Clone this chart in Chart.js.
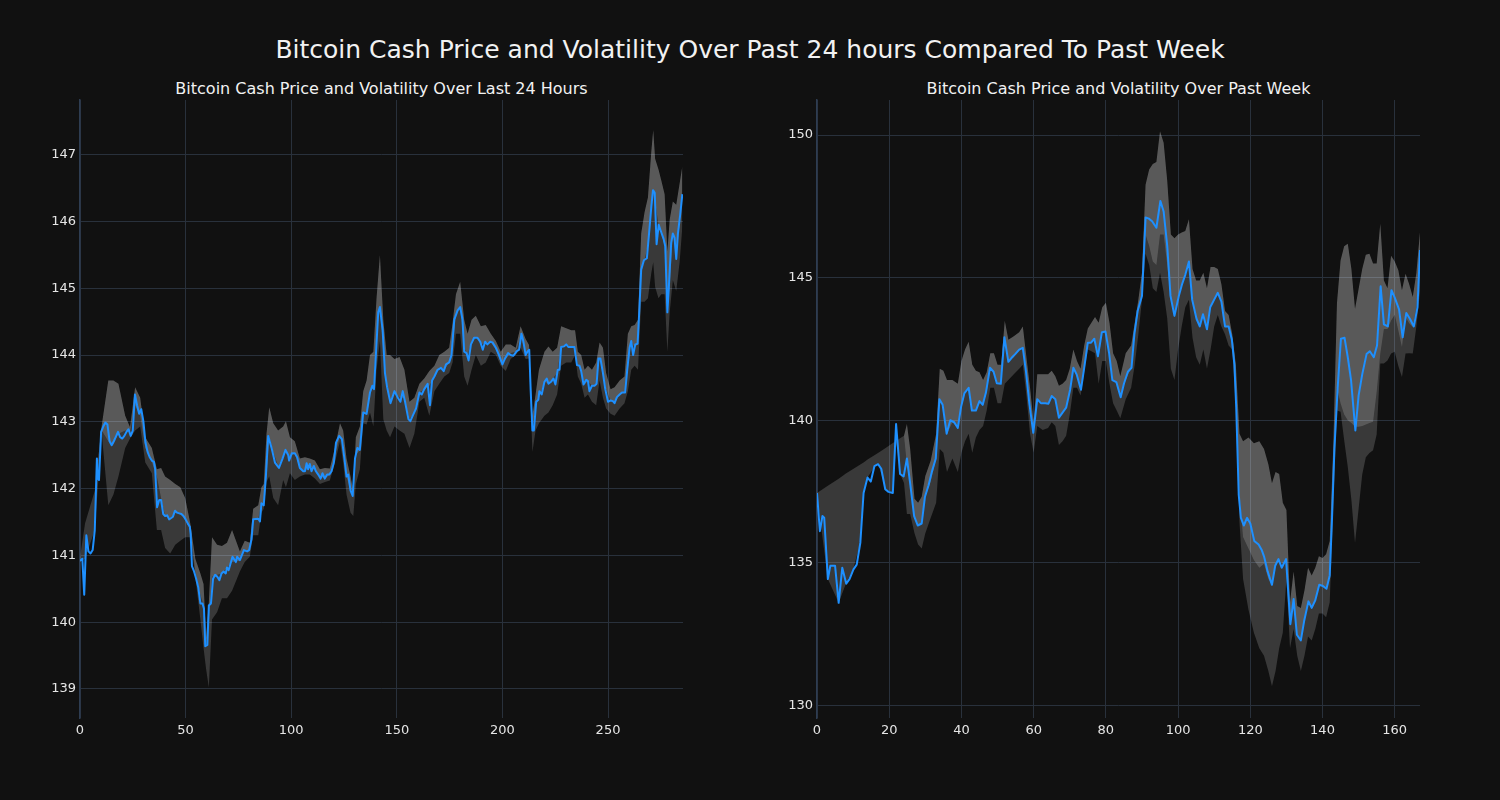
<!DOCTYPE html>
<html><head><meta charset="utf-8">
<script src="https://cdn.jsdelivr.net/npm/chart.js@4.4.1/dist/chart.umd.min.js"></script>
<style>
html,body{margin:0;padding:0;background:#111111;width:1500px;height:800px;overflow:hidden;font-family:"DejaVu Sans",sans-serif;}
#title{position:absolute;left:0;width:1500px;top:34px;text-align:center;color:#f2f2f2;font-size:25px;line-height:32px;white-space:nowrap;}
.sub{position:absolute;top:78px;color:#f2f2f2;font-size:16px;line-height:22px;text-align:center;white-space:nowrap;}
.cw{position:absolute;top:0;width:750px;height:800px;}
</style></head><body>
<div id="title">Bitcoin Cash Price and Volatility Over Past 24 hours Compared To Past Week</div>
<div class="sub" style="left:80px;width:603px">Bitcoin Cash Price and Volatility Over Last 24 Hours</div>
<div class="sub" style="left:817px;width:603px">Bitcoin Cash Price and Volatility Over Past Week</div>
<div class="cw" style="left:0"><canvas id="c1" width="750" height="800"></canvas></div>
<div class="cw" style="left:750px"><canvas id="c2" width="750" height="800"></canvas></div>
<script>
// ---------- Left chart: last 24 hours ----------
const leftXTicks = [0, 50, 100, 150, 200, 250];
const leftYTicks = [139, 140, 141, 142, 143, 144, 145, 146, 147];
const leftPriceX = [0,1.1,2,3,4,5,6,7,8,8.4,9,10,11,12,13,14,15,16,17,18,19,20,21,22,23,24,25,26,27,28,29,30,31,32,33,34,35,35.6,36.5,37.5,38.4,39.4,40.3,41.3,42.2,43.2,44,45,46,47,48,49,50,51,52,52.4,53,54,55,56,57,58,58.7,59.3,60.3,61,62,63,64,65,66,67,68,69,69.6,70.4,72.2,73.8,74.4,75.7,77.6,79.1,80.1,81.2,82,84.4,85.2,85.9,87,88,89.1,90.7,92.3,94.2,95.9,97.3,98.6,99,100.3,101.7,102.8,104.1,105.7,106.5,107.3,108,108.8,109.6,110.7,111.7,112.8,113.9,114.8,115.9,117,118,119.1,120.2,121.2,122.7,124,125.1,126.2,127,128.1,129.1,130.2,131.3,132.5,134.1,135.7,137.3,138.4,139.2,141.2,142,143.3,144.4,145.4,147,148.9,150.5,151.7,152.8,153.9,155.5,156.4,157.5,159.1,160.7,161.8,163,164.6,165.7,166.7,167.8,169.3,170.9,172.2,173.3,174.8,175.9,177.2,178.8,180,181.1,181.9,183,184,185.1,186.6,188.2,189.5,190.7,191.8,192.9,194.2,195.3,196.9,198.4,200,201.1,202.7,203.9,205.2,206.8,207.9,209,209.9,211,211.8,212.7,213.4,214.2,214.9,216,217,217.5,218.6,219.9,221,221.8,223,224.2,225.1,226.2,227,227.8,229.1,230.2,231.3,232.9,234.1,235.3,236.5,237.3,238.4,239.7,240.5,241.2,242.4,243.6,244.6,245.5,246.4,247.6,248.7,250,251.2,252.3,253.1,254.2,255.5,256.6,258.1,259.1,260.2,261,261.9,262.9,264,264.9,265.7,267,268.4,269.7,270.5,271.3,272.1,273,274,275.2,276.3,277.1,278.1,278.8,279.9,280.7,281.5,282.3,283.1,284.2,285.2];
const leftPrice = [140.92,140.95,140.41,141.30,141.06,141.03,141.08,141.38,142.45,142.15,142.13,142.85,142.93,142.99,142.96,142.71,142.65,142.71,142.78,142.85,142.77,142.75,142.79,142.85,142.89,142.79,142.87,143.41,143.25,143.12,143.19,143.01,142.69,142.55,142.47,142.42,142.40,142.29,141.72,141.83,141.83,141.62,141.59,141.60,141.54,141.56,141.58,141.67,141.64,141.63,141.62,141.59,141.54,141.48,141.43,141.32,140.84,140.76,140.65,140.52,140.28,140.28,140.20,139.64,139.66,140.25,140.28,140.65,140.71,140.68,140.63,140.73,140.76,140.73,140.82,140.78,140.98,140.90,140.98,140.93,141.08,141.06,141.08,141.24,141.54,141.55,141.51,141.78,141.75,142.18,142.79,142.61,142.39,142.31,142.45,142.58,142.50,142.42,142.53,142.53,142.47,142.31,142.26,142.26,142.38,142.29,142.37,142.26,142.34,142.26,142.21,142.15,142.23,142.15,142.21,142.21,142.26,142.39,142.69,142.79,142.74,142.47,142.18,142.21,141.97,141.89,142.45,142.61,142.58,143.14,143.12,143.44,143.54,143.49,144.64,144.72,144.37,143.73,143.52,143.28,143.46,143.36,143.30,143.46,143.30,143.04,143.01,143.09,143.20,143.44,143.41,143.49,143.57,143.25,143.62,143.68,143.78,143.81,143.76,143.86,143.89,144.00,144.53,144.67,144.72,144.53,144.05,144.03,143.92,144.16,144.26,144.26,144.20,144.08,144.20,144.16,144.20,144.19,144.11,144.00,143.86,143.94,144.03,144.00,143.99,144.06,144.08,144.32,144.21,144.00,144.05,144.08,143.46,142.87,142.87,143.30,143.33,143.46,143.41,143.60,143.65,143.57,143.60,143.65,143.56,143.78,143.78,144.12,144.13,144.16,144.12,144.12,144.12,143.85,143.84,143.76,143.56,143.63,143.61,143.46,143.54,143.54,143.57,143.95,143.95,143.73,143.49,143.30,143.32,143.31,143.28,143.37,143.41,143.44,143.44,143.78,144.11,144.21,144.00,144.16,144.17,144.72,145.28,145.42,145.45,145.92,146.22,146.47,146.43,145.66,145.95,145.84,145.74,145.63,144.64,145.02,145.68,145.82,145.76,145.44,145.82,146.11,146.41];
const leftBandX = [0,2.4,7,10.3,13.4,15.8,18.2,21.4,23.7,26.1,28.5,30.9,34,36.4,38.4,40.3,42.7,45.1,47.5,49.8,52.2,54.6,57,58.5,59.7,61,62.5,64.9,67.2,69.6,72,75.7,78,80.4,82,84.4,85.9,87,88.3,89.6,91.5,93.8,96.2,97.5,99.4,101.7,104.1,106.5,108.8,111.2,113.6,116,118.3,120.7,123.1,124.6,126.2,128.1,129.4,130.6,132.5,134.1,135.7,137.3,138.9,140.4,142,143.6,145.2,146.8,148.9,151.3,153.6,156,158.3,160.7,163,165.4,167.8,170.1,172.5,174.8,176.4,178,180,181.9,183.5,185.4,187.4,189.8,192.1,194.5,196.9,199.2,201.6,203.9,206.3,208.6,211,212.6,214.2,215.7,217.3,219.9,221.8,223.8,225.9,227.8,230.2,232.6,234.4,235.7,237.3,238.9,240.5,242.4,244.4,246,247.6,249.1,251.2,253.1,255.5,257.8,259.4,261,262.6,264.2,265.7,267.3,268.9,270.5,271.4,272.3,273.9,275.2,276.8,278.1,279.2,280.7,282.3,283.9,285.2];
const leftBandTop = [140.97,141.48,141.97,142.95,143.62,143.62,143.57,143.09,142.92,143.52,143.36,142.77,142.61,142.29,142.31,142.18,142.13,142.07,142.02,141.86,141.48,140.95,140.73,140.57,139.77,140.30,141.27,141.16,141.14,141.19,141.38,141.06,141.22,141.19,141.70,141.75,142.02,142.07,142.82,143.22,142.98,142.87,142.93,143.01,142.77,142.71,142.45,142.47,142.45,142.42,142.29,142.31,142.30,142.61,142.98,142.87,142.45,142.18,141.97,142.77,142.93,143.46,143.62,144.00,144.05,144.85,145.50,144.53,144.00,144.00,143.94,143.97,143.78,143.30,143.36,143.57,143.65,143.76,143.84,144.00,144.05,144.11,144.48,144.91,145.10,144.53,144.32,144.53,144.59,144.43,144.45,144.32,144.21,144.05,144.16,144.16,144.11,144.43,144.24,144.15,143.09,143.41,143.78,144.05,144.13,144.05,144.11,144.43,144.40,144.37,144.37,144.05,144.00,143.78,143.84,143.78,143.89,144.19,144.11,143.73,143.49,143.52,143.62,143.68,144.32,144.43,144.45,144.53,145.82,146.14,146.36,147.05,147.37,146.94,146.78,146.62,146.41,145.55,146.03,146.30,146.25,146.57,146.83];
const leftBandMid = [140.97,141.48,141.97,142.87,142.71,142.66,142.82,142.87,142.85,143.25,143.09,142.61,142.40,142.18,141.86,141.59,141.56,141.64,141.62,141.54,141.38,140.76,140.41,140.25,139.66,140.00,140.68,140.71,140.73,140.82,140.90,140.92,141.08,141.08,141.54,141.55,141.78,141.75,142.18,142.79,142.55,142.34,142.47,142.58,142.47,142.53,142.31,142.26,142.34,142.29,142.18,142.15,142.21,142.50,142.79,142.71,142.18,141.97,141.86,142.50,142.58,143.14,143.12,143.44,143.52,144.32,144.72,144.05,143.57,143.30,143.46,143.36,143.36,143.04,143.14,143.44,143.49,143.54,143.68,143.81,143.78,143.89,144.11,144.61,144.72,144.11,144.00,144.21,144.27,144.16,144.19,144.19,144.08,143.89,143.94,144.03,144.05,144.27,144.05,144.05,142.90,143.25,143.36,143.60,143.57,143.65,143.73,144.12,144.16,144.12,144.12,143.85,143.76,143.56,143.61,143.54,143.57,143.94,143.73,143.49,143.32,143.28,143.41,143.44,143.78,144.21,144.11,144.17,145.28,145.42,145.66,146.22,146.47,146.30,145.95,145.84,145.63,144.64,145.02,145.82,145.44,145.98,146.41];
const leftBandBottom = [140.90,140.95,141.38,142.82,141.75,141.91,142.18,142.61,142.75,142.87,142.93,142.39,142.23,141.38,141.38,141.11,141.03,141.16,141.22,141.27,141.27,140.68,140.04,139.61,139.30,139.02,140.04,140.15,140.36,140.36,140.47,140.76,140.90,140.98,141.30,141.30,141.64,141.70,142.10,142.18,141.86,141.75,142.13,142.02,142.23,142.13,142.18,142.21,142.21,142.15,142.07,142.10,142.12,142.39,142.71,142.39,141.91,141.64,141.59,142.07,142.29,142.98,142.96,143.14,142.93,143.78,144.21,143.04,142.87,142.77,142.93,142.87,142.82,142.61,142.82,143.30,143.36,143.09,143.46,143.57,143.68,143.73,143.89,144.32,144.32,143.68,143.54,143.78,144.00,143.84,143.89,144.05,144.00,143.84,143.76,143.94,144.00,144.11,143.94,143.95,142.55,142.87,142.98,143.09,143.14,143.25,143.41,143.84,143.89,143.89,144.00,143.68,143.57,143.36,143.41,143.30,143.25,143.62,143.36,143.20,143.12,143.09,143.20,143.28,143.46,143.78,143.84,143.78,144.80,144.80,144.85,145.23,145.39,145.02,144.85,144.91,144.91,144.05,144.64,145.12,144.96,145.39,145.92];

// ---------- Right chart: past week ----------
const rightXTicks = [0, 20, 40, 60, 80, 100, 120, 140, 160];
const rightYTicks = [130, 135, 140, 145, 150];
const rightPriceX = [0,0.8,1.5,2,2.6,3,3.7,4.1,5,6,7,8.1,9,10.1,11,12,12.9,14,14.9,15.9,16.9,17.8,18.9,19.8,21,21.9,23,24,24.9,25.8,26.9,27.9,29,29.9,30.9,31.8,32.9,33.9,34.8,35.9,36.9,38,39,39.9,40.8,42,42.9,44,45,45.9,46.8,47.9,48.9,49.8,50.9,51.9,53,53.9,54.9,56,57,57.9,58.8,59.9,61,62,63.2,64.1,65,66,67,68,69,70.1,71,71.9,73.1,74,75,75.9,76.8,77.8,78.9,79.9,80.9,81.8,82.9,84.1,85,86.1,87.1,87.9,88.8,90,91,91.9,92.8,94,95.1,96,97,97.9,99,100.2,101.1,102,103,103.9,105.1,106,106.9,108,108.9,110,111,112,113,114,114.9,115.6,116.1,116.8,117.4,118.2,119.1,120,121.1,122.3,123.2,123.8,124.8,126,126.9,127.8,128.7,129.9,131.1,132,132.9,134,134.9,136.1,137,138,139.1,140.1,141.1,142,142.6,143.3,144.2,145.1,146.1,147,147.9,149.1,150,151,152.2,153.1,154.2,155.1,156.1,157,158.1,159.1,160,161.2,162.2,163.2,164.2,165.3,166.3,167];
const rightPrice = [137.45,136.11,136.64,136.58,135.30,134.43,134.90,134.90,134.90,133.60,134.83,134.27,134.43,134.77,134.94,135.70,137.45,137.99,137.85,138.39,138.46,138.30,137.58,137.49,137.45,139.87,138.12,138.03,138.66,137.79,136.64,136.31,136.38,137.32,137.72,138.19,138.66,140.74,140.54,139.53,140.00,139.93,139.73,140.47,140.94,141.14,140.34,140.34,140.67,140.54,140.98,141.84,141.70,141.30,141.28,142.91,142.05,142.19,142.32,142.48,142.54,141.68,140.60,139.56,140.74,140.60,140.60,140.58,140.85,140.74,140.09,140.27,140.44,141.07,141.84,141.61,141.07,141.84,142.72,142.72,142.86,142.24,143.09,143.11,142.35,141.41,141.34,140.81,141.28,141.70,141.84,143.02,143.83,144.36,147.11,147.07,146.98,146.75,147.69,147.32,146.11,144.36,143.66,144.36,144.77,145.10,145.57,144.23,143.56,143.29,143.72,143.19,143.96,144.23,144.47,144.16,143.29,143.29,142.82,141.95,140.47,137.38,136.58,136.31,136.58,136.38,135.77,135.64,135.44,135.23,134.70,134.23,134.90,135.13,134.83,135.13,132.85,133.73,132.48,132.28,132.95,133.65,133.42,133.69,134.23,134.19,134.09,134.56,136.44,139.00,141.14,142.86,142.89,142.21,141.41,139.64,140.87,141.61,142.32,142.42,142.21,142.62,144.70,143.36,143.29,144.56,144.30,143.89,142.91,143.76,143.56,143.29,143.96,145.97];
const rightBandX = [0,3,6,8,10,12,13,14,16,17,19,21,22,23,24.1,24.9,25.8,27,28,29,30,31.5,33,34,35,36,37.5,39,40,41,42,43,44,45,46,47,48,49,50,51,52,53,54.5,56,57,58,59,60,61,62.5,64,65,66,67,68,69,70,71,72,73,74,75,76,77,78,79,80,81,82,83,84,85.5,87,88,89,90,91,92,93,94,95,96,97,98,99,100,101,102,103,104,105,106,107,108,109,110,111,112,113,114,115,116,117,118,119.5,121,122.5,123.8,125,126,127,128,129,130,131,132,133,134,135,136,137,138,139,140,141,142,143,144,145,146,147,148,149,150,151,152,153,154,155,156,157,158,159,160,161,162,163,164,165,166,167];
const rightBandTop = [137.45,137.70,137.95,138.13,138.29,138.45,138.53,138.62,138.78,138.86,139.03,139.20,139.28,139.37,139.46,139.87,138.99,137.25,137.11,137.32,138.05,138.59,139.53,141.81,141.74,141.41,141.41,141.28,142.08,142.48,142.75,141.95,141.74,141.68,141.41,141.68,142.35,142.35,141.95,141.95,143.49,142.82,142.95,143.09,143.29,142.21,141.14,139.93,141.61,141.61,141.61,141.74,141.54,141.21,141.28,141.41,141.81,142.48,142.08,141.81,142.62,143.22,143.42,143.62,143.42,143.96,144.12,143.42,142.35,142.08,141.54,142.35,142.62,143.42,144.23,145.17,148.26,148.79,148.99,149.06,150.13,149.73,148.39,146.51,146.38,146.51,146.58,146.64,147.05,145.30,144.90,144.90,145.17,144.63,145.37,145.37,145.30,144.77,143.83,143.69,143.02,141.95,139.53,139.26,139.40,139.19,139.26,138.99,138.46,137.79,138.19,138.12,137.11,136.85,133.62,134.70,133.49,133.42,134.03,134.83,134.56,134.83,135.23,135.17,135.30,135.77,139.13,144.09,145.60,146.10,146.19,145.30,143.90,144.60,145.30,145.80,145.84,145.50,145.50,146.89,144.90,144.63,145.77,145.57,145.26,144.56,145.14,144.77,144.32,145.17,146.60];
const rightBandMid = [137.45,137.70,137.95,138.13,138.29,138.45,138.53,138.62,138.78,138.86,139.03,139.20,139.28,139.37,139.46,138.46,137.79,136.64,136.31,136.38,137.32,137.85,138.66,140.74,140.54,139.53,139.93,139.73,140.47,141.01,141.14,140.34,140.34,140.67,140.54,140.98,141.84,141.70,141.30,141.28,142.91,142.05,142.21,142.48,142.54,141.68,140.60,139.56,140.74,140.60,140.58,140.85,140.74,140.09,140.27,140.44,141.07,141.84,141.61,141.07,141.84,142.72,142.72,142.86,142.24,143.09,143.11,142.35,141.41,141.28,140.81,141.41,141.84,143.02,143.83,144.36,146.51,146.11,145.57,145.44,146.51,146.51,145.44,144.23,143.66,144.36,144.77,145.10,145.57,144.23,143.56,143.29,143.72,143.19,143.96,144.23,144.47,144.16,143.29,143.29,142.82,141.14,137.38,135.91,135.50,135.10,134.83,134.97,134.43,134.23,134.90,135.10,134.97,135.10,132.82,133.69,132.48,132.28,132.95,133.65,133.42,133.69,134.23,134.19,134.09,134.56,137.79,141.14,140.60,140.20,140.00,139.90,139.77,139.77,139.80,139.85,139.90,139.95,141.00,142.34,143.20,143.20,143.50,143.70,143.15,142.57,143.62,143.40,143.27,143.96,145.50];
const rightBandBottom = [137.40,134.43,133.60,134.27,134.77,135.70,137.45,137.99,138.39,138.46,137.58,137.45,139.20,138.12,137.80,136.71,136.71,136.04,135.64,135.50,136.04,136.58,137.11,138.99,138.86,138.19,138.66,138.19,138.86,139.26,139.53,138.86,139.40,139.66,139.80,140.34,141.14,141.14,140.60,140.60,141.28,141.41,141.61,141.81,141.95,140.87,139.53,138.86,139.80,139.66,139.73,139.93,139.80,139.13,139.26,139.46,140.20,141.14,141.14,140.87,141.68,142.48,142.42,142.35,141.28,142.08,142.08,141.28,140.60,140.34,140.07,140.74,141.14,141.95,143.02,144.23,145.84,145.44,144.63,144.50,145.17,144.50,143.56,141.81,141.41,142.48,143.29,143.96,144.23,142.89,142.21,141.95,142.48,141.81,142.48,143.29,143.69,143.29,143.02,142.62,142.48,140.47,136.44,134.43,133.36,132.55,132.01,131.74,131.21,130.67,131.21,132.01,132.55,134.43,132.01,132.68,131.74,131.21,131.74,132.42,132.28,132.68,133.22,133.22,133.09,133.62,137.11,140.34,140.30,139.30,138.36,137.20,135.70,136.90,138.10,138.70,138.85,138.95,139.50,141.99,141.99,142.10,142.34,142.40,141.90,141.52,142.34,142.35,142.34,143.30,144.50];

// ---------- builders ----------
function pts(xs, ys) { return xs.map((x, i) => ({ x: x, y: ys[i] })); }

const GRID = '#29313c';
const SPINE = '#2e3d52';
const TXT = '#e6e6e6';
const BAND = 'rgba(255,255,255,0.17)';

function makeChart(id, cfg) {
  const bandLine = (data, fill, color) => ({
    data: data, borderWidth: 0, borderColor: 'rgba(0,0,0,0)', pointRadius: 0,
    fill: fill, backgroundColor: color, tension: 0
  });
  return new Chart(document.getElementById(id), {
    type: 'line',
    data: {
      datasets: [
        { data: pts(cfg.px, cfg.py), borderColor: '#1e90ff', borderWidth: 2, pointRadius: 0, fill: false, tension: 0, borderJoinStyle: 'round' },
        bandLine(pts(cfg.bx, cfg.top), 2, BAND),
        bandLine(pts(cfg.bx, cfg.bot), false, 'rgba(0,0,0,0)'),
        bandLine(pts(cfg.bx, cfg.top), 4, BAND),
        bandLine(pts(cfg.bx, cfg.mid), false, 'rgba(0,0,0,0)')
      ]
    },
    options: {
      responsive: false, animation: false, devicePixelRatio: 1,
      layout: { padding: { left: 0, right: cfg.padRight, top: 100, bottom: 52 } },
      plugins: { legend: { display: false }, title: { display: false }, tooltip: { enabled: false } },
      scales: {
        x: {
          type: 'linear', min: cfg.xmin, max: cfg.xmax,
          afterBuildTicks: s => { s.ticks = cfg.xticks.map(v => ({ value: v })); },
          afterFit: s => { s.height = 30; },
          grid: { color: GRID, lineWidth: 1, drawTicks: false },
          border: { display: false },
          ticks: { color: TXT, font: { family: 'DejaVu Sans', size: 13 }, padding: 5, autoSkip: false, maxRotation: 0 }
        },
        y: {
          type: 'linear', min: cfg.ymin, max: cfg.ymax,
          afterBuildTicks: s => { s.ticks = cfg.yticks.map(v => ({ value: v })); },
          afterFit: s => { s.width = cfg.yw; },
          grid: { color: GRID, lineWidth: 1, drawTicks: false },
          border: { display: true, color: SPINE, width: 1.5 },
          ticks: { color: TXT, font: { family: 'DejaVu Sans', size: 13 }, padding: 4 }
        }
      }
    }
  });
}

makeChart('c1', { px: leftPriceX, py: leftPrice, bx: leftBandX, top: leftBandTop, mid: leftBandMid, bot: leftBandBottom,
  xmin: 0, xmax: 285.5, ymin: 138.565, ymax: 147.82, xticks: leftXTicks, yticks: leftYTicks, yw: 80, padRight: 67 });
makeChart('c2', { px: rightPriceX, py: rightPrice, bx: rightBandX, top: rightBandTop, mid: rightBandMid, bot: rightBandBottom,
  xmin: 0, xmax: 167, ymin: 129.56, ymax: 151.23, xticks: rightXTicks, yticks: rightYTicks, yw: 67, padRight: 80 });
</script>
</body></html>
